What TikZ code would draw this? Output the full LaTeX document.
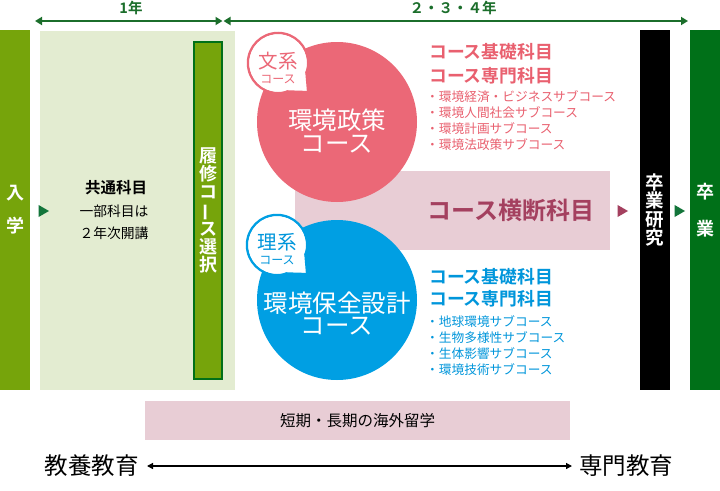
\documentclass[tikz,border=0pt]{standalone}
\usepackage{fontspec}
\setmainfont{Noto Sans CJK JP}[BoldFont={Noto Sans CJK JP Bold}]
\usetikzlibrary{arrows.meta,shapes.geometric}
\definecolor{olivegr}{HTML}{76A40B}
\definecolor{lightgr}{HTML}{E3ECD1}
\definecolor{darkgr}{HTML}{1B6E2B}
\definecolor{gradgr}{HTML}{007018}
\definecolor{trigr}{HTML}{13753A}
\definecolor{pinkc}{HTML}{EB6877}
\definecolor{pinkband}{HTML}{E8CDD5}
\definecolor{maroon}{HTML}{A4405F}
\definecolor{bluec}{HTML}{009FE3}
\definecolor{pinktxt}{HTML}{E9606F}
\definecolor{bluetxt}{HTML}{0096DB}
\tikzset{
  vbar/.style={inner sep=0pt, minimum width=30pt, minimum height=360pt, text=white, align=center},
  tri/.style={regular polygon, regular polygon sides=3, shape border rotate=-90, inner sep=0pt, minimum size=13pt},
  ttl/.style={anchor=west, inner sep=0pt, font=\bfseries\fontsize{17.8}{17.8}\selectfont},
  sub/.style={anchor=west, inner sep=0pt, font=\fontsize{12.7}{12.7}\selectfont},
  circtxt/.style={text=white, align=center, font=\fontsize{24.5}{22.5}\selectfont},
}
\begin{document}
\begin{tikzpicture}[x=1pt,y=-1pt]
\useasboundingbox (0,0) rectangle (720,490);
\fill[white] (0,0) rectangle (720,490);

% top arrows
\coordinate (a1) at (35,21);
\coordinate (a2) at (222.5,21);
\coordinate (a3) at (223.5,21);
\coordinate (a4) at (688,21);
\draw[darkgr, line width=2pt, {Stealth[length=7pt,width=8pt,inset=0pt]}-{Stealth[length=7pt,width=8pt,inset=0pt]}] (a1) -- (a2);
\draw[darkgr, line width=2pt, {Stealth[length=7pt,width=8pt,inset=0pt]}-{Stealth[length=7pt,width=8pt,inset=0pt]}] (a3) -- (a4);
\node[darkgr, font=\bfseries\fontsize{14.5}{14.5}\selectfont] (y1) at (131,8) {1年};
\node[darkgr, font=\bfseries\fontsize{14.5}{14.5}\selectfont] (y234) at (453,8) {２・３・４年};

% left bars
\node[vbar, fill=olivegr, font=\bfseries\fontsize{18}{33}\selectfont] (nyu) at (15,210) {入\\学};
\node[inner sep=0pt, minimum width=195pt, minimum height=359pt, fill=lightgr] (panel) at (137.5,210.5) {};
\node[tri, fill=trigr, minimum size=14pt] (t1) at (42,211) {};
\node[align=center, font=\bfseries\fontsize{15.5}{15.5}\selectfont] (kyotsu) at (116,188) {共通科目};
\node[align=center, font=\fontsize{13.8}{22}\selectfont] (bubun) at (114,222) {一部科目は\\２年次開講};
\node[inner sep=0pt, minimum width=28pt, minimum height=337pt, fill=olivegr, draw=gradgr, line width=2pt] (rishu) at (208,210.5) {};
\node[text=white, align=center, font=\bfseries\fontsize{18}{18}\selectfont] at (rishu.center) {履\\修\\コ\\\rotatebox[origin=c]{90}{ー}\\ス\\選\\択};

% cross band
\node[inner sep=0pt, minimum width=315pt, minimum height=79pt, fill=pinkband] (band) at (452.5,210.5) {};
\node[maroon, font=\bfseries\fontsize{24}{24}\selectfont] (oudan) at (511,210) {コース横断科目};
\node[tri, fill=maroon, minimum size=14pt] (t2) at (621,211) {};

% pink circle
\fill[pinkc] (337,122) circle[radius=80];
\node[circtxt] (kankyo1) at (337,131) {環境政策\\コース};
\begin{scope}[shift={(278,63)}]
  \filldraw[fill=white, draw=pinkc, line width=2.5pt] (0,0) circle[radius=30];
  \filldraw[fill=white, draw=pinkc, line width=2.5pt, line join=round] (0,0) -- (18:30) -- (44:42) -- (72:30) -- cycle;
  \fill[white] (0,0) circle[radius=28.75];
  \node[pinkc, font=\fontsize{19.5}{19.5}\selectfont] (bun) at (0,-2) {文系};
  \node[pinkc, font=\fontsize{12}{12}\selectfont] (bunc) at (0,16) {コース};
\end{scope}

% blue circle
\fill[bluec] (337,300) circle[radius=80];
\node[circtxt] (kankyo2) at (337,313.5) {環境保全設計\\コース};
\begin{scope}[shift={(277,245)}]
  \filldraw[fill=white, draw=bluec, line width=2.5pt] (0,0) circle[radius=30];
  \filldraw[fill=white, draw=bluec, line width=2.5pt, line join=round] (0,0) -- (18:30) -- (44:42) -- (72:30) -- cycle;
  \fill[white] (0,0) circle[radius=28.75];
  \node[bluetxt, font=\fontsize{19.5}{19.5}\selectfont] (ri) at (0,-3) {理系};
  \node[bluetxt, font=\fontsize{12}{12}\selectfont] (ric) at (0,15) {コース};
\end{scope}

% pink lists
\node[ttl, pinktxt] (p1) at (429,52) {コース基礎科目};
\node[ttl, pinktxt] (p2) at (429,76) {コース専門科目};
\node[sub, pinktxt] (p3) at (426,97) {・環境経済・ビジネスサブコース};
\node[sub, pinktxt] (p4) at (426,113) {・環境人間社会サブコース};
\node[sub, pinktxt] (p5) at (426,129) {・環境計画サブコース};
\node[sub, pinktxt] (p6) at (426,145) {・環境法政策サブコース};

% blue lists
\node[ttl, bluetxt] (b1) at (429,277) {コース基礎科目};
\node[ttl, bluetxt] (b2) at (429,299) {コース専門科目};
\node[sub, bluetxt] (b3) at (426,322) {・地球環境サブコース};
\node[sub, bluetxt] (b4) at (426,338) {・生物多様性サブコース};
\node[sub, bluetxt] (b5) at (426,354) {・生体影響サブコース};
\node[sub, bluetxt] (b6) at (426,370) {・環境技術サブコース};

% right bars
\node[vbar, fill=black, font=\bfseries\fontsize{18.5}{18.5}\selectfont] (sotsuken) at (655,210) {卒\\業\\研\\究};
\node[tri, fill=trigr, minimum size=14pt] (t3) at (678,211) {};
\node[vbar, fill=gradgr, font=\bfseries\fontsize{18}{37}\selectfont] (sotsu) at (705,210) {卒\\業};

% bottom
\node[inner sep=0pt, minimum width=425pt, minimum height=39pt, fill=pinkband, font=\fontsize{15.5}{15.5}\selectfont] (ryugaku) at (357.5,420.5) {短期・長期の海外留学};
\node[anchor=east, inner sep=0pt, font=\fontsize{23.5}{23.5}\selectfont] (kyoyo) at (139,466) {教養教育};
\node[anchor=west, inner sep=0pt, font=\fontsize{23.5}{23.5}\selectfont] (senmon) at (579,466) {専門教育};
\draw[black, line width=1.3pt, {Stealth[length=6pt,width=6pt,inset=0pt]}-{Stealth[length=6pt,width=6pt,inset=0pt]}] ([xshift=8pt]kyoyo.east) -- ([xshift=-7pt]senmon.west);
\end{tikzpicture}
\end{document}
